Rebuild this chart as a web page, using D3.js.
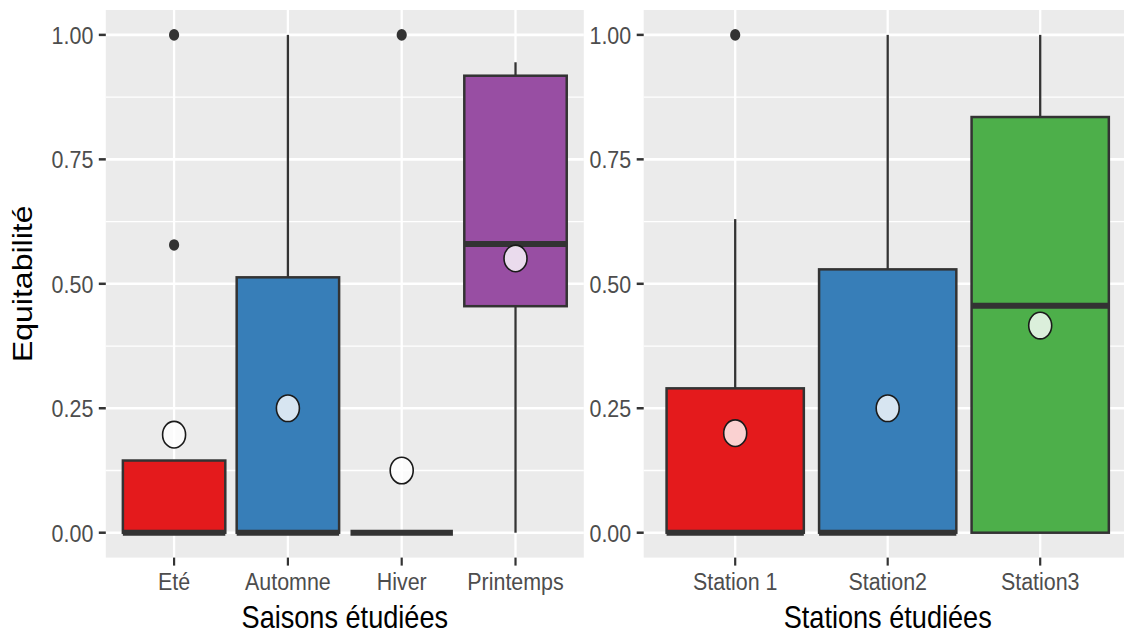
<!DOCTYPE html>
<html><head><meta charset="utf-8">
<script src="https://cdn.jsdelivr.net/npm/d3@7"></script>
<style>body{margin:0;background:#fff;overflow:hidden} text{font-family:"Liberation Sans",Arial,Helvetica,sans-serif}</style>
</head><body><svg id="c" width="1124" height="633"></svg>
<script>
// ---- data ----
const seasons = ["Eté", "Automne", "Hiver", "Printemps"];
const seasonLow    = [0, 0, 0, 0];
const seasonQ1     = [0, 0, 0, 0.455];
const seasonMedian = [0, 0, 0, 0.58];
const seasonQ3     = [0.145, 0.513, 0, 0.918];
const seasonHigh   = [0.145, 1.0, 0, 0.945];
const seasonMean   = [0.197, 0.25, 0.125, 0.551];
const seasonOutliers = [[0.578, 1.0], [], [1.0], []];
const seasonColors = ["#E41A1C", "#377EB8", "#4DAF4A", "#984EA3"];

const stations = ["Station 1", "Station2", "Station3"];
const stationLow    = [0, 0, 0];
const stationQ1     = [0, 0, 0];
const stationMedian = [0, 0, 0.456];
const stationQ3     = [0.29, 0.529, 0.835];
const stationHigh   = [0.63, 1.0, 1.0];
const stationMean   = [0.2, 0.25, 0.416];
const stationOutliers = [[1.0], [], []];
const stationColors = ["#E41A1C", "#377EB8", "#4DAF4A"];

const yTicks = [0, 0.25, 0.5, 0.75, 1.0];
const yTickLabels = ["0.00", "0.25", "0.50", "0.75", "1.00"];
const yMinor = [0.125, 0.375, 0.625, 0.875];
const yTitle = "Equitabilité";
const xTitleLeft = "Saisons étudiées";
const xTitleRight = "Stations étudiées";

// ---- layout ----
const svg = d3.select("#c");
const SX = 0.875; // horizontal squish of the original picture
const pTop = 10, pBottom = 557.6;
const y = d3.scaleLinear().domain([-0.05, 1.05]).range([pBottom, pTop]);
const dark = "#333333";

function panel(cfg) {
  const x = d3.scalePoint().domain(cfg.cats).range([cfg.x0, cfg.x1]).padding(0.6);
  const step = x.step();
  const g = svg.append("g");
  g.append("rect").attr("x", cfg.x0).attr("y", pTop).attr("width", cfg.x1 - cfg.x0)
    .attr("height", pBottom - pTop).attr("fill", "#EBEBEB");
  // grid
  g.selectAll(".ymin").data(yMinor).join("line")
    .attr("x1", cfg.x0).attr("x2", cfg.x1).attr("y1", d => y(d)).attr("y2", d => y(d))
    .attr("stroke", "#fff").attr("stroke-width", 1.3);
  g.selectAll(".ymaj").data(yTicks).join("line")
    .attr("x1", cfg.x0).attr("x2", cfg.x1).attr("y1", d => y(d)).attr("y2", d => y(d))
    .attr("stroke", "#fff").attr("stroke-width", 2.6);
  g.selectAll(".xmaj").data(cfg.cats).join("line")
    .attr("x1", d => x(d)).attr("x2", d => x(d)).attr("y1", pTop).attr("y2", pBottom)
    .attr("stroke", "#fff").attr("stroke-width", 2.3);
  // y axis ticks & labels
  g.selectAll(".yt").data(yTicks).join("line")
    .attr("x1", cfg.x0 - 7).attr("x2", cfg.x0).attr("y1", d => y(d)).attr("y2", d => y(d))
    .attr("stroke", dark).attr("stroke-width", 2.5);
  g.selectAll(".yl").data(yTicks).join("text")
    .attr("transform", d => `translate(${cfg.x0 - 12.5},${y(d) + 9}) scale(${SX},1)`)
    .attr("text-anchor", "end").attr("font-size", 24.5).attr("fill", "#4D4D4D")
    .text((d, i) => yTickLabels[i]);
  // x axis ticks & labels
  g.selectAll(".xt").data(cfg.cats).join("line")
    .attr("x1", d => x(d)).attr("x2", d => x(d)).attr("y1", pBottom).attr("y2", pBottom + 8)
    .attr("stroke", dark).attr("stroke-width", 2.2);
  g.selectAll(".xl").data(cfg.cats).join("text")
    .attr("transform", d => `translate(${x(d)},590) scale(${SX},1)`)
    .attr("text-anchor", "middle").attr("font-size", 24.5).attr("fill", "#4D4D4D")
    .text(d => d);
  g.append("text")
    .attr("transform", `translate(${(cfg.x0 + cfg.x1) / 2},628) scale(${SX},1)`)
    .attr("text-anchor", "middle").attr("font-size", 31).attr("fill", "#000")
    .text(cfg.title);

  const bw = step * 0.9;
  cfg.cats.forEach((c, i) => {
    const cx = x(c);
    // whiskers
    g.append("line").attr("x1", cx).attr("x2", cx).attr("y1", y(cfg.q3[i])).attr("y2", y(cfg.high[i]))
      .attr("stroke", dark).attr("stroke-width", 2.3);
    g.append("line").attr("x1", cx).attr("x2", cx).attr("y1", y(cfg.q1[i])).attr("y2", y(cfg.low[i]))
      .attr("stroke", dark).attr("stroke-width", 2.3);
    // box
    g.append("rect").attr("x", cx - bw / 2).attr("width", bw)
      .attr("y", y(cfg.q3[i])).attr("height", Math.max(0, y(cfg.q1[i]) - y(cfg.q3[i])))
      .attr("fill", cfg.colors[i]).attr("stroke", dark).attr("stroke-width", 2.5);
    // median
    g.append("line").attr("x1", cx - bw / 2).attr("x2", cx + bw / 2)
      .attr("y1", y(cfg.median[i])).attr("y2", y(cfg.median[i]))
      .attr("stroke", dark).attr("stroke-width", 6).attr("stroke-linecap", "butt");
    // outliers
    cfg.out[i].forEach(v => {
      g.append("ellipse").attr("cx", cx).attr("cy", y(v)).attr("rx", 5.1).attr("ry", 5.8)
        .attr("fill", dark);
    });
  });
  // mean points
  cfg.cats.forEach((c, i) => {
    g.append("ellipse").attr("cx", x(c)).attr("cy", y(cfg.mean[i])).attr("rx", 11.5).attr("ry", 13.3)
      .attr("fill", "#fff").attr("fill-opacity", 0.8).attr("stroke", "#1a1a1a").attr("stroke-width", 1.6);
  });
}

panel({cats: seasons, x0: 105.8, x1: 583.8, low: seasonLow, q1: seasonQ1, median: seasonMedian,
  q3: seasonQ3, high: seasonHigh, mean: seasonMean, out: seasonOutliers, colors: seasonColors, title: xTitleLeft});
panel({cats: stations, x0: 643.7, x1: 1131.7, low: stationLow, q1: stationQ1, median: stationMedian,
  q3: stationQ3, high: stationHigh, mean: stationMean, out: stationOutliers, colors: stationColors, title: xTitleRight});

svg.append("text")
  .attr("transform", `translate(32,${(pTop + pBottom) / 2}) scale(${SX},1) rotate(-90)`)
  .attr("text-anchor", "middle").attr("font-size", 32).attr("fill", "#000")
  .text(yTitle);
</script></body></html>
